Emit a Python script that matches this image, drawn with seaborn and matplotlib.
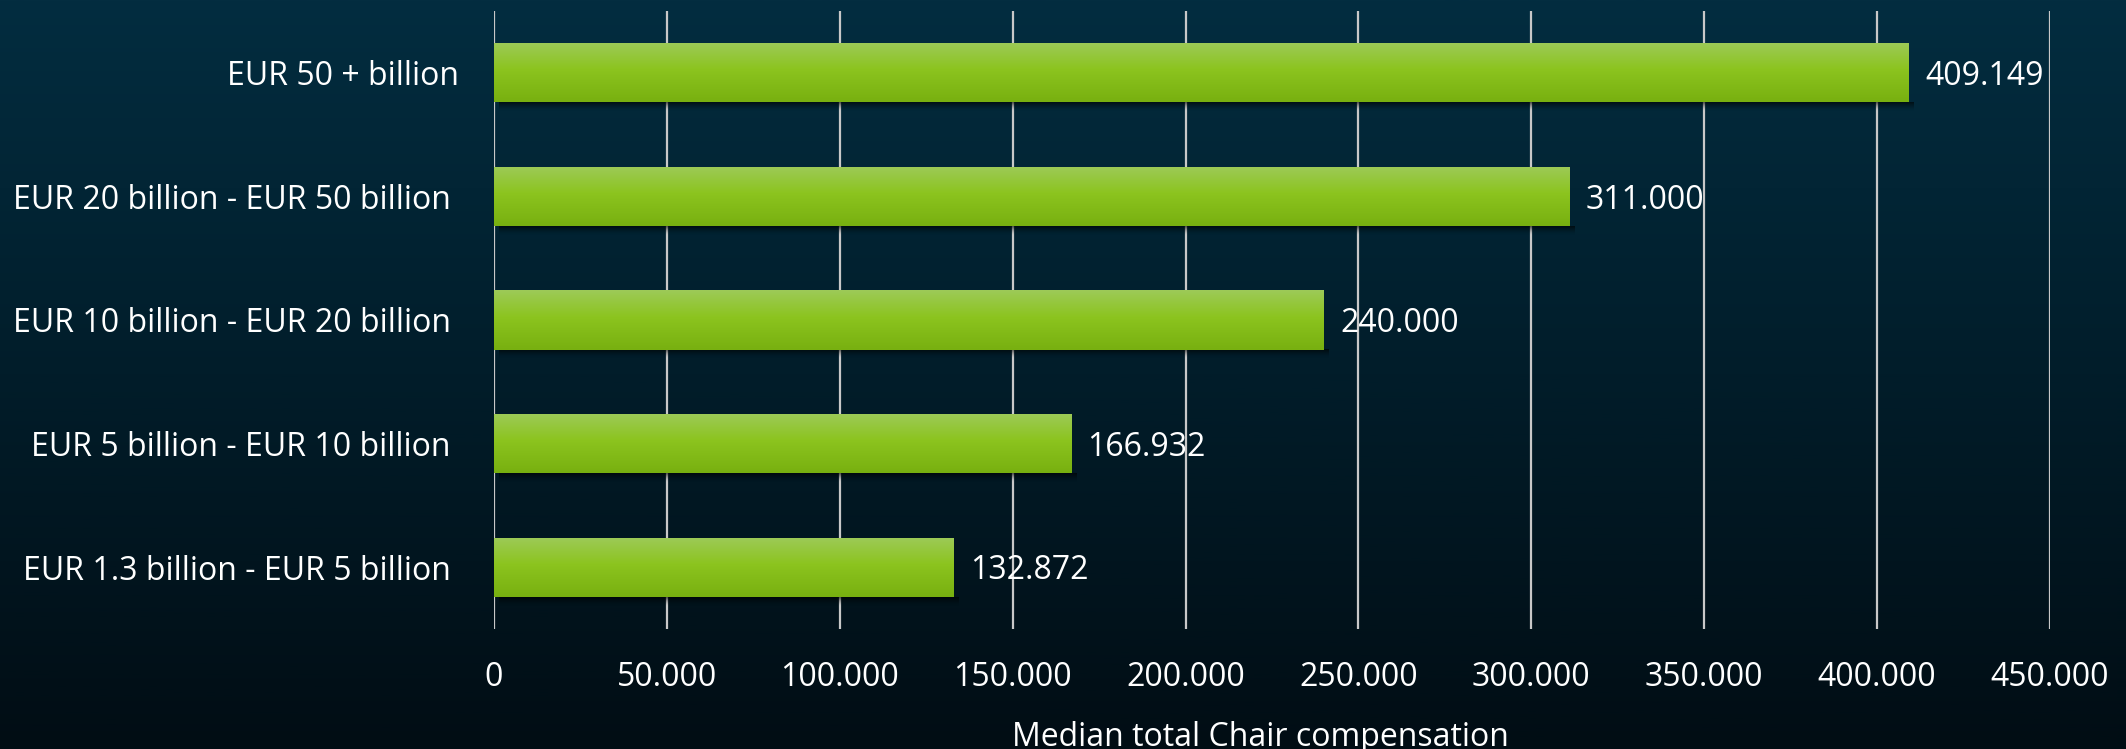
import numpy as np
import pandas as pd
import matplotlib
matplotlib.use("Agg")
import matplotlib.pyplot as plt
from matplotlib.colors import LinearSegmentedColormap
from matplotlib.ticker import FuncFormatter
import seaborn as sns

# Data
categories = [
    "EUR 50 + billion",
    "EUR 20 billion - EUR 50 billion ",
    "EUR 10 billion - EUR 20 billion ",
    "EUR 5 billion - EUR 10 billion ",
    "EUR 1.3 billion - EUR 5 billion ",
]
values = [409149, 311000, 240000, 166932, 132872]
x_ticks = [0, 50000, 100000, 150000, 200000, 250000, 300000, 350000, 400000, 450000]
x_label = "Median total Chair compensation"

df = pd.DataFrame({"band": categories, "median": values})

sns.set_theme(style="dark")
plt.rcParams["font.family"] = ["Open Sans", "DejaVu Sans"]

W, H, DPI = 2126, 749, 100
FS = 23
fig = plt.figure(figsize=(W / DPI, H / DPI), dpi=DPI)

# Full-figure vertical background gradient
bg = fig.add_axes([0, 0, 1, 1], zorder=-10)
bg_cmap = LinearSegmentedColormap.from_list("bg", ["#032d40", "#011d2a", "#010d14"])
bg.imshow(np.linspace(0, 1, 256).reshape(-1, 1), aspect="auto", cmap=bg_cmap,
          extent=[0, 1, 0, 1], origin="upper")
bg.set_axis_off()

ax = fig.add_axes([494 / W, 1 - 629 / H, (2050 - 494) / W, (629 - 11) / H])
ax.patch.set_alpha(0)

sns.barplot(data=df, x="median", y="band", orient="h", width=0.48,
            color="#8cc41f", linewidth=0, edgecolor="none", ax=ax, zorder=3)

ax.set_xlim(0, 450000)
ax.set_ylim(4.5, -0.5)
ax.set_xticks(x_ticks)
ax.xaxis.set_major_formatter(FuncFormatter(lambda v, p: f"{v:,.0f}".replace(",", ".")))
ax.grid(axis="x", color="#c8c8c8", linewidth=1.6, zorder=0)
ax.grid(axis="y", visible=False)
for s in ax.spines.values():
    s.set_visible(False)
ax.tick_params(axis="both", length=0, labelsize=FS, colors="white")
ax.tick_params(axis="y", pad=25)
ax.tick_params(axis="x", pad=23)
ax.set_ylabel("")
ax.set_xlabel(x_label, color="white", fontsize=FS, labelpad=18)
ax.xaxis.set_label_coords(0.4925, -0.175)
ax.xaxis.label.set_va("center")

# Gradient fill and soft shadow for each bar
bar_cmap = LinearSegmentedColormap.from_list(
    "bar", [(0.0, "#9dca58"), (0.45, "#8cc41f"), (1.0, "#78b010")])
grad = np.linspace(0, 1, 128).reshape(-1, 1)
shadow_rgba = np.zeros((64, 1, 4))
shadow_rgba[..., 3] = np.linspace(0.75, 0.0, 64).reshape(-1, 1) ** 1.5
for bar, v in zip(ax.patches, values):
    x0, y0 = bar.get_x(), bar.get_y()
    w, h = bar.get_width(), bar.get_height()
    bar.set_facecolor("none")
    # shadow just below the bar's lower edge (y axis inverted)
    ax.imshow(shadow_rgba, aspect="auto", extent=[x0 + 1500, x0 + w + 1500, y0 + h + 0.07, y0 + h],
              origin="upper", zorder=2, interpolation="bilinear")
    im = ax.imshow(grad, aspect="auto", cmap=bar_cmap, extent=[x0, x0 + w, y0 + h, y0],
                   origin="upper", zorder=4, interpolation="bilinear")
    im.set_clip_path(bar)
    ax.text(x0 + w + 4700, y0 + h / 2 + 0.03, f"{v:,.0f}".replace(",", "."), color="white",
            fontsize=FS, va="center", ha="left", zorder=5)

ax.set_xlim(0, 450000)
ax.set_ylim(4.5, -0.5)

fig.savefig("out.png", dpi=DPI)
